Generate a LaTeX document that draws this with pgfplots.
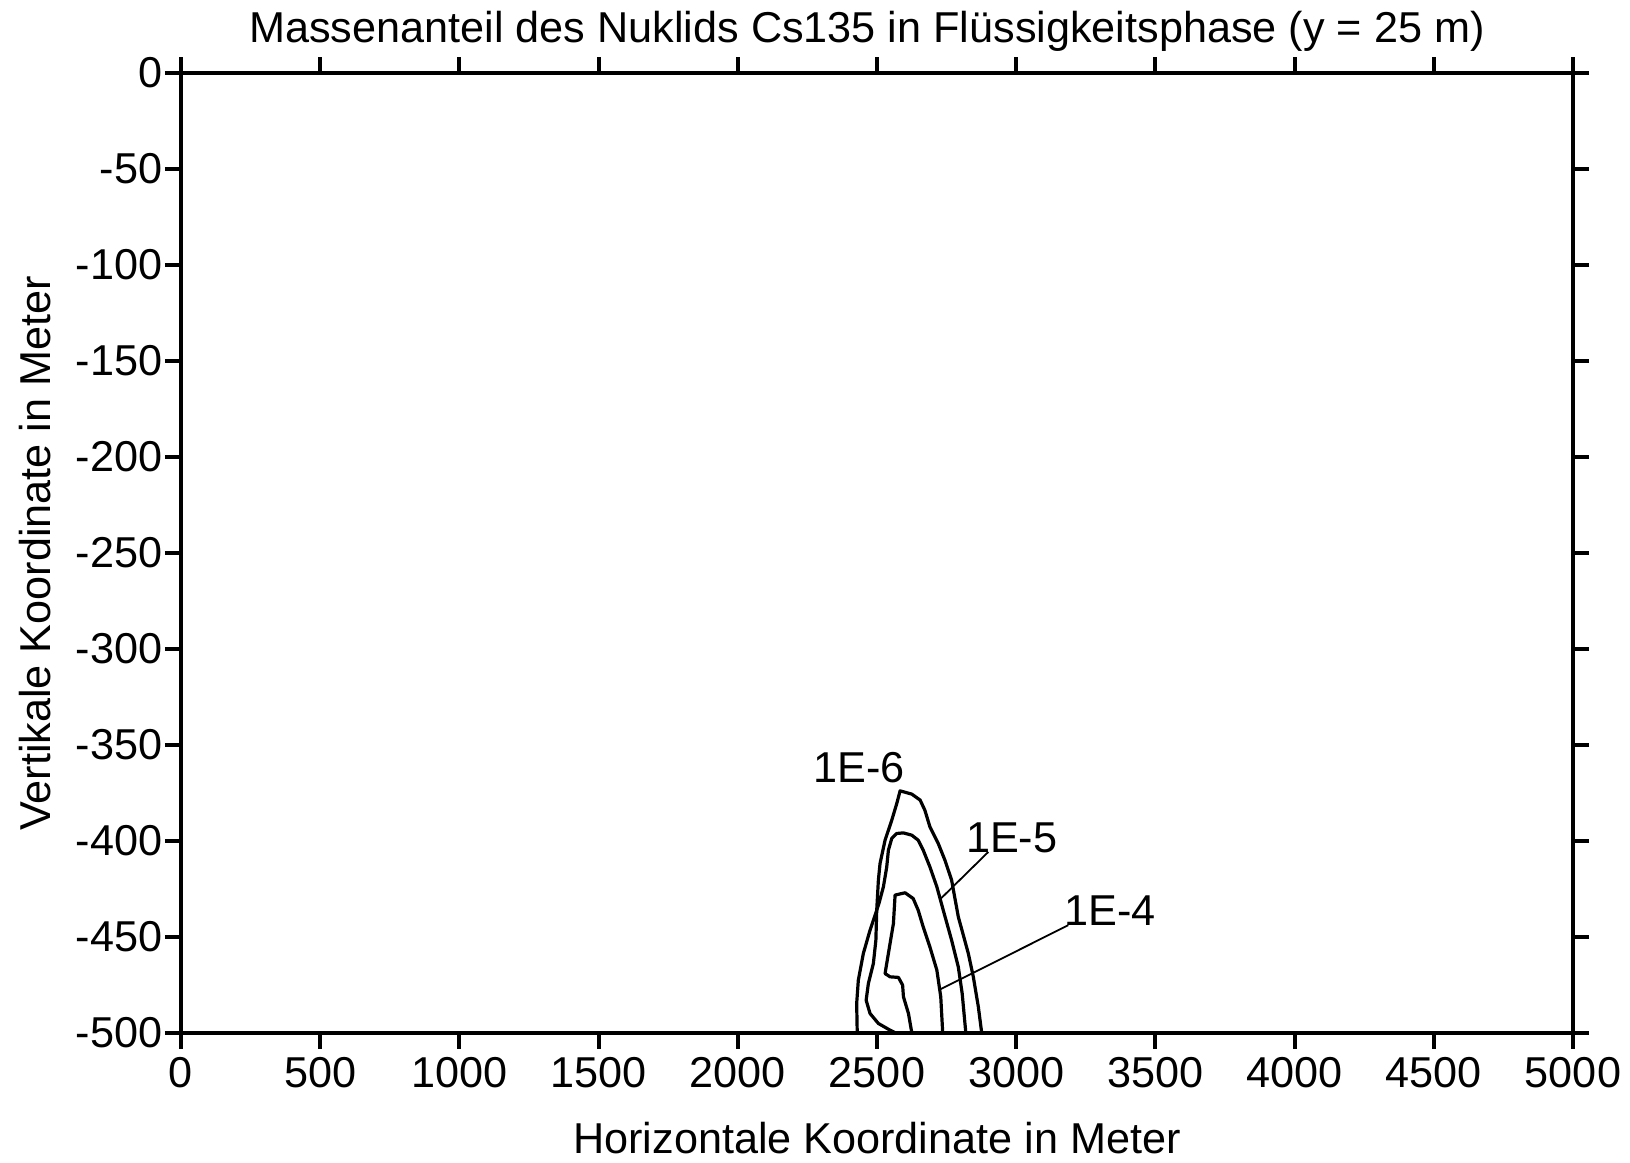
\documentclass[border=0pt]{standalone}
\usepackage{fontspec}
\setmainfont{Liberation Sans}
\usepackage{pgfplots}
\pgfplotsset{compat=1.18}
\newcommand{\fs}{\fontsize{10.8}{13}\selectfont}
\begin{document}
\begin{tikzpicture}
\begin{axis}[
  at={(0,0)}, anchor=south west,
  scale only axis, width=348pt, height=239.9pt,
  xmin=0, xmax=5000, ymin=-500, ymax=0,
  axis line style={line width=1pt, black},
  every tick/.style={line width=1pt, black},
  major tick length=4pt,
  tick align=outside,
  xtick pos=both, ytick pos=both,
  xtick={0,500,...,5000},
  xticklabels={0,500,1000,1500,2000,2500,3000,3500,4000,4500,5000},
  ytick={0,-50,-100,-150,-200,-250,-300,-350,-400,-450,-500},
  yticklabels={0,-50,-100,-150,-200,-250,-300,-350,-400,-450,-500},
  tick label style={font=\fs, inner sep=0pt},
  xticklabel style={anchor=north, yshift=-2pt},
  yticklabel style={anchor=east, xshift=-0.5pt},
  clip=false,
]
% outer contour (peak at -374)
\addplot[black, line width=0.8pt, line join=round] coordinates {
(2876,-500) (2864,-486.5) (2846,-470.9) (2828,-458.7) (2792,-439.6)
(2768,-420.5) (2744,-410.1) (2720,-401.4) (2690,-392.7) (2672,-384.1)
(2655,-378.8) (2625,-375.7) (2583,-374.0) (2571,-380.6) (2553,-389.3)
(2529,-399.7) (2511,-411.8) (2505,-420.5) (2499,-436.2) (2496,-451.8)
(2487,-463.9) (2469,-474.4) (2461,-483.1) (2475,-490.0) (2505,-495.2)
(2547,-498.7) (2565,-500)
};
% middle contour (peak at -396)
\addplot[black, line width=0.8pt, line join=round] coordinates {
(2819,-500) (2806,-479.6) (2792,-465.7) (2768,-451.8) (2738,-436.2)
(2715,-424.0) (2690,-413.6) (2666,-404.9) (2648,-399.7) (2625,-397.1)
(2595,-395.9) (2571,-396.2) (2553,-398.8) (2541,-404.9) (2535,-413.6)
(2523,-424.0) (2507,-432.7) (2475,-446.6) (2451,-458.7) (2433,-472.6)
(2427,-484.8) (2429,-500)
};
% inner contour (peak at -427)
\addplot[black, line width=0.8pt, line join=round] coordinates {
(2736,-500) (2729,-481.3) (2715,-467.4) (2690,-455.3) (2666,-444.9)
(2648,-436.2) (2630,-430.1) (2601,-427.1) (2565,-428.3) (2559,-443.1)
(2541,-458.7) (2529,-469.2) (2547,-470.9) (2577,-471.2) (2592,-475.2)
(2595,-481.3) (2613,-490.0) (2625,-500)
};
% leader lines
\addplot[black, line width=0.45pt] coordinates {(2900,-405.8) (2726,-430.6)};
\addplot[black, line width=0.45pt] coordinates {(3187,-444.0) (2726,-477.5)};
\node[font=\fs, inner sep=0pt] at (axis cs:2435,-361.9) {1E-6};
\node[font=\fs, inner sep=0pt] at (axis cs:2984,-398.4) {1E-5};
\node[font=\fs, inner sep=0pt] at (axis cs:3337,-436.2) {1E-4};
\end{axis}
\node[font=\fs, anchor=base, inner sep=0pt] at (171.5pt,247.5pt)
  {Massenanteil des Nuklids Cs135 in Flüssigkeitsphase (y = 25 m)};
\node[font=\fs, anchor=base, inner sep=0pt] at (174pt,-30.1pt)
  {Horizontale Koordinate in Meter};
\node[font=\fs, anchor=base, inner sep=0pt, rotate=90] at (-32.5pt,119.8pt)
  {Vertikale Koordinate in Meter};
\pgfresetboundingbox
\path[use as bounding box] (-45.25pt,-32.575pt) rectangle (362.25pt,258.175pt);
\end{tikzpicture}
\end{document}
